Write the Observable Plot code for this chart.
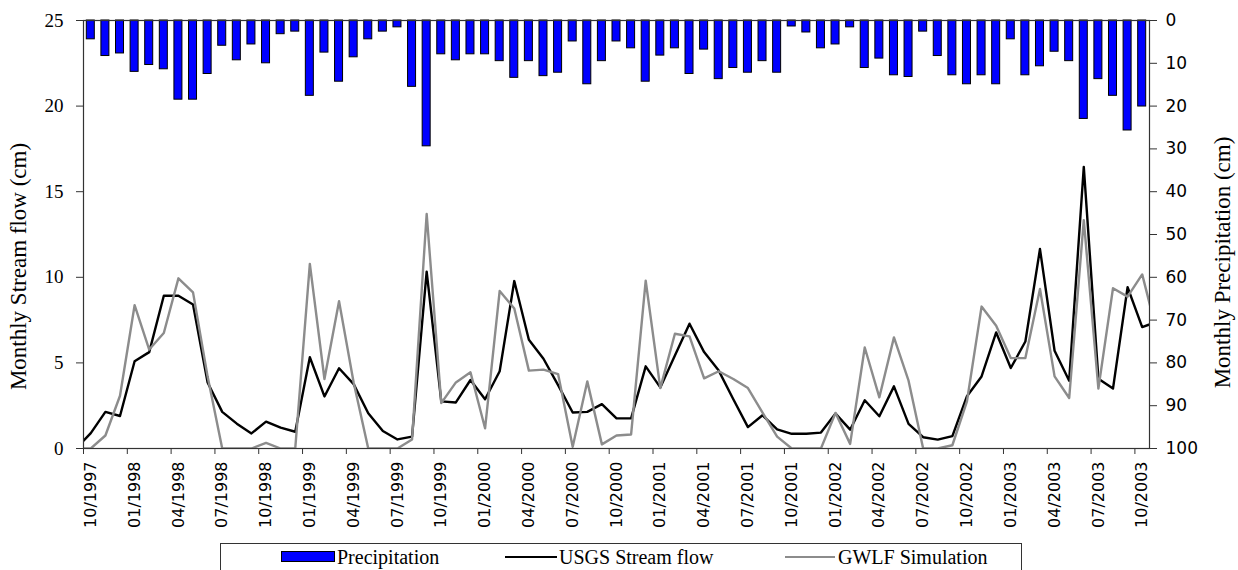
<!DOCTYPE html>
<html>
<head>
<meta charset="utf-8">
<script src="https://cdn.jsdelivr.net/npm/d3@7"></script>
<script src="https://cdn.jsdelivr.net/npm/@observablehq/plot@0.6"></script>
<style>
  html, body { margin: 0; padding: 0; background: #fff; overflow: hidden; }
  #wrap { position: relative; width: 1238px; height: 570px; }
  #legend {
    position: absolute; left: 220px; top: 543px; width: 802px; height: 40px;
    border: 1px solid #333; box-sizing: border-box;
    font-family: "Liberation Serif", "Times New Roman", serif; font-size: 20px; color: #000;
  }
  #legend .sw { position: absolute; }
  #legend .lb { position: absolute; top: 3px; line-height: 20px; white-space: nowrap; }
</style>
</head>
<body>
<div id="wrap">
  <div id="chart"></div>
  <div id="legend">
    <div class="sw" style="left:60px; top:7px; width:52px; height:9px; background:#0000ff; border:1px solid #000;"></div>
    <div class="lb" style="left:116px;">Precipitation</div>
    <div class="sw" style="left:284px; top:12px; width:52px; height:0; border-top:2px solid #000;"></div>
    <div class="lb" style="left:338px;">USGS Stream flow</div>
    <div class="sw" style="left:564px; top:12px; width:50px; height:0; border-top:2px solid #8c8c8c;"></div>
    <div class="lb" style="left:617px;">GWLF Simulation</div>
  </div>
</div>
<script>
// Monthly precipitation (cm), 10/1997 – 10/2003 (73 months)
const precipitation = [
  4.4, 8.3, 7.7, 12.0, 10.4, 11.4, 18.5, 18.5, 12.5, 5.9,
  9.3, 5.6, 10.0, 3.2, 2.6, 17.6, 7.5, 14.3, 8.6, 4.4,
  2.6, 1.6, 15.5, 29.4, 7.9, 9.3, 7.9, 7.9, 9.5, 13.4,
  9.5, 13.0, 12.2, 4.9, 14.9, 9.5, 4.9, 6.5, 14.3, 8.2,
  6.5, 12.5, 6.8, 13.7, 11.1, 12.2, 9.5, 12.2, 1.4, 2.8,
  6.5, 5.6, 1.6, 11.1, 8.9, 12.8, 13.2, 2.6, 8.3, 12.8,
  14.9, 12.8, 14.9, 4.4, 12.8, 10.7, 7.3, 9.5, 23.0, 13.7,
  17.6, 25.7, 20.1
];

// Monthly stream flow (cm), 09/1997 – 11/2003; the end months run past the frame and are clipped
const usgsFlow = [
  0.0,
  0.9, 2.14, 1.9, 5.1, 5.63, 8.92, 8.92, 8.41, 3.86, 2.14,
  1.45, 0.88, 1.57, 1.22, 0.98, 5.33, 3.04, 4.69, 3.76, 2.06,
  1.02, 0.53, 0.69, 10.33, 2.75, 2.69, 4.0, 2.88, 4.51, 9.78,
  6.35, 5.24, 3.7, 2.1, 2.14, 2.59, 1.76, 1.76, 4.8, 3.57,
  5.43, 7.29, 5.63, 4.55, 2.88, 1.25, 1.94, 1.12, 0.86, 0.86,
  0.93, 2.04, 1.1, 2.82, 1.88, 3.63, 1.44, 0.66, 0.52, 0.72,
  3.05, 4.21, 6.78, 4.7, 6.25, 11.65, 5.71, 3.96, 16.45, 4.08,
  3.5, 9.42, 7.09,
  7.4
];

const gwlfFlow = [
  0.0,
  0.0, 0.76, 3.08, 8.37, 5.78, 6.75, 9.94, 9.12, 4.2, 0.0,
  0.0, 0.0, 0.33, 0.0, 0.0, 10.78, 4.06, 8.6, 3.86, 0.0,
  0.0, 0.0, 0.53, 13.7, 2.65, 3.86, 4.45, 1.18, 9.2, 8.18,
  4.55, 4.61, 4.35, 0.1, 3.92, 0.24, 0.76, 0.82, 9.8, 3.53,
  6.7, 6.55, 4.1, 4.51, 4.06, 3.53, 2.1, 0.69, 0.0, 0.0,
  0.0, 2.08, 0.27, 5.9, 2.99, 6.49, 3.96, 0.0, 0.0, 0.19,
  2.76, 8.29, 7.17, 5.28, 5.28, 9.32, 4.21, 2.95, 13.34, 3.5,
  9.36, 8.87, 10.17,
  6.8
];

// Quarterly month labels along the bottom axis
const tickLabels = [
  "10/1997", "01/1998", "04/1998", "07/1998", "10/1998",
  "01/1999", "04/1999", "07/1999", "10/1999",
  "01/2000", "04/2000", "07/2000", "10/2000",
  "01/2001", "04/2001", "07/2001", "10/2001",
  "01/2002", "04/2002", "07/2002", "10/2002",
  "01/2003", "04/2003", "07/2003", "10/2003"
];

const flowTicks = [0, 5, 10, 15, 20, 25];
const precipTicks = [0, 10, 20, 30, 40, 50, 60, 70, 80, 90, 100];

// Precipitation hangs from the top, on a reversed 0–100 cm scale that maps onto flow 25–0
const flowMax = 25, precipMax = 100;
const toFlow = p => flowMax - p * flowMax / precipMax;

const bars = precipitation.map((p, i) => ({i, p}));
const usgs = usgsFlow.map((v, j) => ({i: j - 1, v}));
const gwlf = gwlfFlow.map((v, j) => ({i: j - 1, v}));

const serif = "Liberation Serif, Times New Roman, serif";
const sans = "DejaVu Sans, Verdana, sans-serif";
const axisColor = "#333";

const chart = Plot.plot({
  width: 1238,
  height: 540,
  marginLeft: 83,
  marginRight: 89,
  marginTop: 20,
  marginBottom: 92,
  x: {type: "linear", domain: [-0.5, precipitation.length - 0.5]},
  y: {domain: [0, flowMax]},
  marks: [
    Plot.rect(bars, {
      x1: d => d.i - 0.5, x2: d => d.i + 0.5,
      y1: flowMax, y2: d => toFlow(d.p),
      insetLeft: 3.3, insetRight: 3.3,
      fill: "#0000ff", stroke: "#000", strokeWidth: 1
    }),
    Plot.line(usgs, {x: "i", y: "v", stroke: "#000", strokeWidth: 2.4, clip: "frame"}),
    Plot.line(gwlf, {x: "i", y: "v", stroke: "#8c8c8c", strokeWidth: 2.4, clip: "frame"}),
    Plot.frame({stroke: axisColor, strokeWidth: 1.2}),
    Plot.axisY({
      anchor: "left", ticks: flowTicks, tickSize: 7, tickPadding: 13,
      stroke: axisColor, fill: "#000", fontFamily: serif, fontSize: 19, label: null
    }),
    Plot.axisY({
      anchor: "right", ticks: precipTicks.map(toFlow),
      tickFormat: v => String(Math.round((flowMax - v) * precipMax / flowMax)),
      tickSize: 7, tickPadding: 9,
      stroke: axisColor, fill: "#000", fontFamily: sans, fontSize: 17, label: null
    }),
    Plot.axisX({
      ticks: tickLabels.map((_, j) => 3 * j - 0.5),
      tickFormat: () => "", tickSize: 6, stroke: axisColor, label: null
    }),
    Plot.axisX({
      ticks: tickLabels.map((_, j) => 3 * j),
      tickFormat: k => tickLabels[Math.round(k / 3)],
      tickSize: 0, tickPadding: 13, tickRotate: -90,
      fill: "#000", fontFamily: sans, fontSize: 16, label: null
    }),
    Plot.text(["Monthly Stream flow (cm)"], {
      frameAnchor: "left", dx: -65, dy: 32, rotate: -90, textAnchor: "middle",
      fontFamily: serif, fontSize: 23, fill: "#000"
    }),
    Plot.text(["Monthly Precipitation (cm)"], {
      frameAnchor: "right", dx: 73, dy: 28, rotate: -90, textAnchor: "middle",
      fontFamily: serif, fontSize: 23, fill: "#000"
    })
  ]
});

document.getElementById("chart").appendChild(chart);
</script>
</body>
</html>
